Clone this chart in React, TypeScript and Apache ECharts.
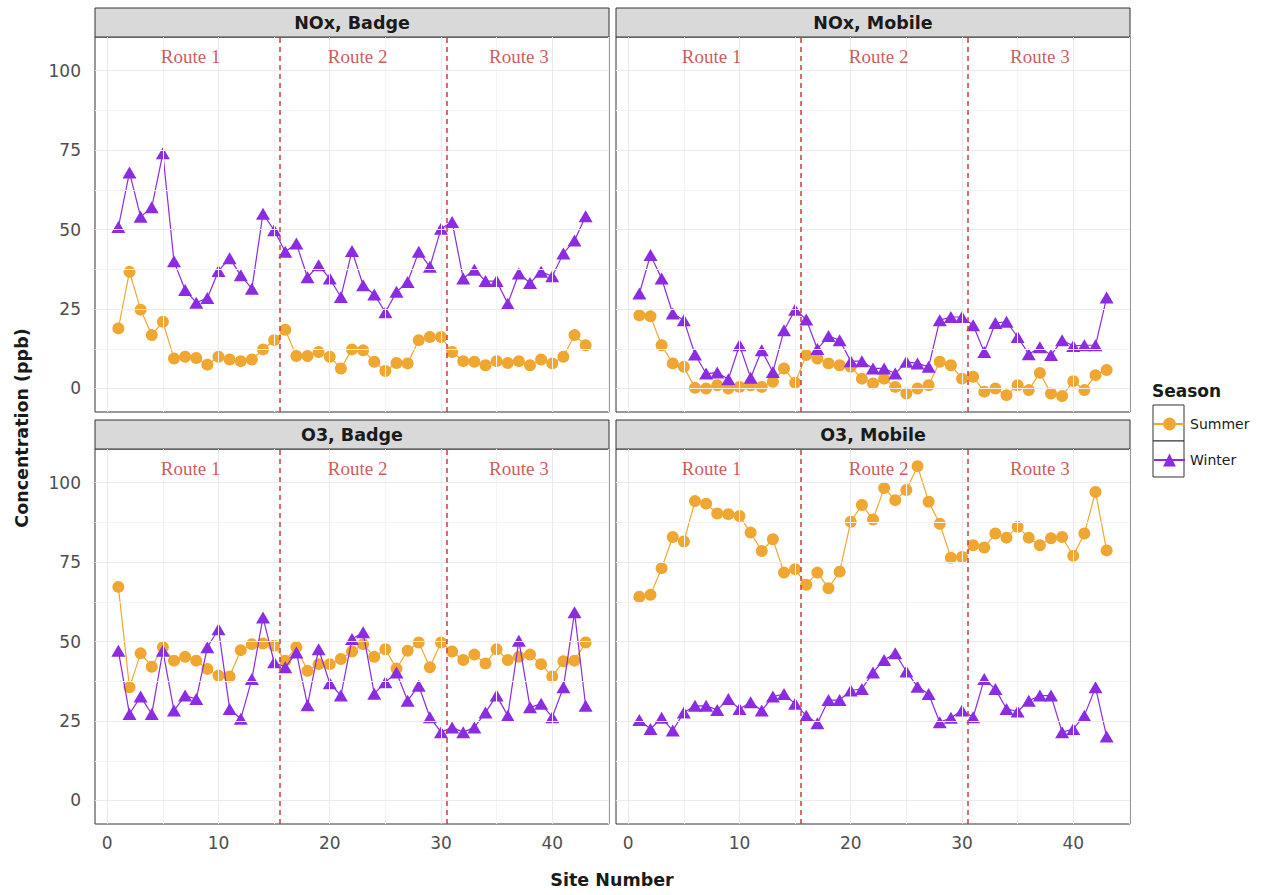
import React, { useEffect, useRef } from "react";
import * as echarts from "echarts";

const SITES = [1, 2, 3, 4, 5, 6, 7, 8, 9, 10, 11, 12, 13, 14, 15, 16, 17, 18, 19, 20, 21, 22, 23, 24, 25, 26, 27, 28, 29, 30, 31, 32, 33, 34, 35, 36, 37, 38, 39, 40, 41, 42, 43];

const PANELS = ["NOx, Badge", "NOx, Mobile", "O3, Badge", "O3, Mobile"];
const SEASONS = ["Summer", "Winter"];

const NOX_BADGE_SUMMER = [18.9, 36.7, 24.8, 16.8, 21, 9.4, 10, 9.6, 7.5, 10, 9.1, 8.6, 9.1, 12.3, 15.2, 18.5, 10.2, 10.2, 11.5, 10, 6.3, 12.3, 12, 8.4, 5.5, 8, 7.9, 15.2, 16.2, 16.2, 11.5, 8.6, 8.4, 7.3, 8.6, 8, 8.6, 7.3, 9.1, 7.9, 10, 16.8, 13.6];
const NOX_BADGE_WINTER = [50.8, 68, 54, 57, 74, 40, 31, 27, 28.5, 37, 41, 35.6, 31.4, 55, 49.8, 43, 45.6, 35, 38.8, 34.6, 28.8, 43.3, 32.5, 29.6, 24, 30.4, 33.5, 43, 38.3, 50.3, 52.4, 34.6, 37.4, 33.8, 33.8, 26.7, 36.2, 33.2, 36.7, 35.3, 42.5, 46.6, 54.2];
const NOX_MOBILE_SUMMER = [23, 22.7, 13.6, 7.9, 6.8, 0.2, 0, 1, 0, 0.5, 1, 0.5, 2.1, 6.3, 1.8, 10.5, 9.4, 7.9, 7.3, 6.8, 3.1, 1.6, 3.1, 0.5, -1.6, 0, 1, 8.4, 7.3, 3.1, 3.7, -1, 0, -2.1, 1, -0.5, 4.9, -1.6, -2.4, 2.3, -0.5, 4.2, 5.8];
const NOX_MOBILE_WINTER = [29.9, 42, 34.6, 23.6, 21.5, 10.7, 4.7, 5, 2.9, 13.6, 3.4, 12, 5.2, 18.3, 24.8, 21.7, 12.4, 16.5, 15.2, 8.6, 8.6, 6.3, 6.3, 4.7, 8.4, 7.9, 6.8, 21.5, 22.5, 22.5, 19.9, 11.5, 20.6, 21, 16.2, 10.8, 13, 10.5, 15.2, 13.4, 13.6, 13.6, 28.6];
const O3_BADGE_SUMMER = [67.2, 35.6, 46.3, 42.1, 48.2, 44, 45.2, 44, 41.4, 39.3, 39, 47.3, 49.2, 49.4, 48.7, 44, 48.2, 40.8, 42.9, 42.9, 44.5, 46.9, 49.2, 45.2, 47.6, 41.5, 47.1, 49.7, 41.9, 49.7, 46.9, 44.2, 45.9, 43.1, 47.6, 44.2, 45.2, 45.9, 42.9, 39, 43.8, 44, 49.7];
const O3_BADGE_WINTER = [47.1, 27.2, 32.7, 27.2, 47.1, 28.3, 33, 31.9, 48.2, 53.9, 28.8, 25.7, 38.2, 57.6, 43.5, 41.9, 46.6, 30, 47.6, 36.9, 33, 50.8, 52.9, 33.6, 37.2, 40.3, 31.4, 36.1, 26.2, 21.5, 23, 21.5, 23, 27.7, 33, 26.7, 50.3, 29.3, 30.4, 26.2, 35.6, 59.2, 29.8];
const O3_MOBILE_SUMMER = [64.1, 64.7, 73.1, 82.9, 81.5, 94.2, 93.4, 90.3, 90.1, 89.5, 84.3, 78.5, 82.2, 71.7, 72.8, 67.9, 71.7, 66.8, 72, 87.7, 93, 88.4, 98.3, 94.5, 97.7, 105.2, 94, 87.1, 76.4, 76.6, 80.3, 79.6, 84, 82.7, 86.1, 82.7, 80.3, 82.5, 82.9, 77, 84, 97.1, 78.7];
const O3_MOBILE_WINTER = [25.3, 22.5, 26, 22, 27.7, 29.8, 29.8, 28.5, 31.9, 28.8, 30.9, 28.3, 32.7, 33.5, 30.4, 26.7, 24.3, 31.6, 31.6, 34.6, 35.1, 40.3, 44.2, 46.3, 40.6, 35.8, 33.5, 24.6, 26, 28.3, 26.2, 38.2, 35.1, 28.8, 28, 31.4, 33, 33, 21.5, 22.5, 26.7, 35.6, 20.1];

const SUMMER = [NOX_BADGE_SUMMER, NOX_MOBILE_SUMMER, O3_BADGE_SUMMER, O3_MOBILE_SUMMER];
const WINTER = [NOX_BADGE_WINTER, NOX_MOBILE_WINTER, O3_BADGE_WINTER, O3_MOBILE_WINTER];

const ROUTE_LABELS = ["Route 1", "Route 2", "Route 3"];
const ROUTE_LABEL_X = [7.5, 22.5, 37];
const ROUTE_LABEL_Y = 104.5;
const ROUTE_BREAKS = [15.5, 30.5];

const Y_TICKS = [0, 25, 50, 75, 100];
const Y_MINOR = [12.5, 37.5, 62.5, 87.5];
const X_TICKS = [0, 10, 20, 30, 40];
const X_MINOR = [5, 15, 25, 35, 45];

const ORANGE = "#F0A732";
const PURPLE = "#8B2BE2";
const RED = "#C0302F";
const DASH_RED = "#C8403F";
const DARK = "#333333";
const FONT = "DejaVu Sans";

const GRID_POS = [
  { left: 95, top: 37 },
  { left: 616, top: 37 },
  { left: 95, top: 449 },
  { left: 616, top: 449 },
];
const GW = 514;
const GH = 375;

export default function App() {
  const ref = useRef<HTMLDivElement>(null);

  useEffect(() => {
    if (!ref.current) return;
    const chart = echarts.init(ref.current, null, { renderer: "svg" });

    const grids = GRID_POS.map((p) => ({
      left: p.left,
      top: p.top,
      width: GW,
      height: GH,
      show: true,
      backgroundColor: "#ffffff",
      borderColor: DARK,
      borderWidth: 1,
      containLabel: false,
      outerBoundsMode: "none",
    }));

    const xAxes = GRID_POS.map((_, i) => ({
      type: "value",
      gridIndex: i,
      min: -1.1,
      max: 45.1,
      axisLine: { show: false },
      splitLine: { show: false },
      axisTick: {
        show: i >= 2,
        customValues: X_TICKS,
        length: 6,
        lineStyle: { color: DARK, width: 1 },
      },
      axisLabel: {
        show: i >= 2,
        customValues: X_TICKS,
        fontFamily: FONT,
        fontSize: 17,
        color: "#4d4d4d",
        margin: 10,
      },
    }));

    const yAxes = GRID_POS.map((_, i) => ({
      type: "value",
      gridIndex: i,
      min: -7.4,
      max: 110.6,
      axisLine: { show: false },
      splitLine: { show: false },
      axisTick: {
        show: i % 2 === 0,
        customValues: Y_TICKS,
        length: 6,
        lineStyle: { color: DARK, width: 1 },
      },
      axisLabel: {
        show: i % 2 === 0,
        customValues: Y_TICKS,
        fontFamily: FONT,
        fontSize: 17,
        color: "#4d4d4d",
        margin: 14,
      },
    }));

    const series: any[] = [];
    PANELS.forEach((_, i) => {
      const gridLines = [
        ...Y_MINOR.map((v) => ({ yAxis: v, lineStyle: { color: "#f4f4f4", width: 1, type: "solid" } })),
        ...X_MINOR.map((v) => ({ xAxis: v, lineStyle: { color: "#f4f4f4", width: 1, type: "solid" } })),
        ...Y_TICKS.map((v) => ({ yAxis: v, lineStyle: { color: "#ebebeb", width: 1, type: "solid" } })),
        ...X_TICKS.map((v) => ({ xAxis: v, lineStyle: { color: "#ebebeb", width: 1, type: "solid" } })),
      ];
      series.push({
        type: "line",
        name: "_grid" + i,
        xAxisIndex: i,
        yAxisIndex: i,
        data: [],
        silent: true,
        z: 1,
        markLine: {
          silent: true,
          symbol: ["none", "none"],
          label: { show: false },
          emphasis: { disabled: true },
          data: gridLines,
        },
      });
      series.push({
        type: "line",
        name: SEASONS[0],
        xAxisIndex: i,
        yAxisIndex: i,
        data: SITES.map((s, k) => [s, SUMMER[i][k]]),
        symbol: "circle",
        symbolSize: 12,
        itemStyle: { color: ORANGE },
        lineStyle: { color: ORANGE, width: 1.2 },
        emphasis: { disabled: true },
        silent: true,
        z: 3,
      });
      series.push({
        type: "line",
        name: SEASONS[1],
        xAxisIndex: i,
        yAxisIndex: i,
        data: SITES.map((s, k) => [s, WINTER[i][k]]),
        symbol: "triangle",
        symbolSize: [14, 12],
        itemStyle: { color: PURPLE },
        lineStyle: { color: PURPLE, width: 1.2 },
        emphasis: { disabled: true },
        silent: true,
        z: 4,
      });
      series.push({
        type: "scatter",
        name: "_route" + i,
        xAxisIndex: i,
        yAxisIndex: i,
        data: ROUTE_LABELS.map((t, k) => ({ name: t, value: [ROUTE_LABEL_X[k], ROUTE_LABEL_Y] })),
        symbolSize: 1,
        itemStyle: { color: "rgba(0,0,0,0)" },
        silent: true,
        z: 5,
        label: {
          show: true,
          position: "inside",
          formatter: "{b}",
          color: RED,
          fontFamily: "Liberation Serif",
          fontSize: 19,
        },
        emphasis: { disabled: true },
        markLine: {
          silent: true,
          symbol: ["none", "none"],
          label: { show: false },
          emphasis: { disabled: true },
          lineStyle: { color: DASH_RED, width: 1.5, type: [5, 4] },
          data: ROUTE_BREAKS.map((v) => ({ xAxis: v })),
        },
      });
    });

    const graphic: any[] = [];
    GRID_POS.forEach((p, i) => {
      graphic.push({
        type: "rect",
        shape: { x: p.left, y: p.top - 29, width: GW, height: 29 },
        style: { fill: "#d9d9d9", stroke: DARK, lineWidth: 1 },
        silent: true,
      });
      graphic.push({
        type: "text",
        x: p.left + GW / 2,
        y: p.top - 14.5,
        style: {
          text: PANELS[i],
          font: `bold 17.5px "${FONT}"`,
          fill: "#1a1a1a",
          align: "center",
          verticalAlign: "middle",
        },
        silent: true,
      });
    });
    graphic.push({
      type: "text",
      x: 22,
      y: 428,
      rotation: Math.PI / 2,
      style: {
        text: "Concentration (ppb)",
        font: `bold 17.5px "${FONT}"`,
        fill: "#1a1a1a",
        align: "center",
        verticalAlign: "middle",
      },
      silent: true,
    });
    graphic.push({
      type: "text",
      x: 612,
      y: 880,
      style: {
        text: "Site Number",
        font: `bold 17.5px "${FONT}"`,
        fill: "#1a1a1a",
        align: "center",
        verticalAlign: "middle",
      },
      silent: true,
    });
    graphic.push({
      type: "text",
      x: 1152,
      y: 391,
      style: {
        text: "Season",
        font: `bold 17px "${FONT}"`,
        fill: "#1a1a1a",
        align: "left",
        verticalAlign: "middle",
      },
      silent: true,
    });
    graphic.push({
      type: "rect",
      shape: { x: 1153, y: 405, width: 31, height: 36 },
      style: { fill: "#ffffff", stroke: DARK, lineWidth: 1 },
      silent: true,
    });
    graphic.push({
      type: "rect",
      shape: { x: 1153, y: 441, width: 31, height: 36 },
      style: { fill: "#ffffff", stroke: DARK, lineWidth: 1 },
      silent: true,
    });

    chart.setOption({
      animation: false,
      backgroundColor: "#ffffff",
      grid: grids,
      xAxis: xAxes,
      yAxis: yAxes,
      legend: {
        data: SEASONS,
        orient: "vertical",
        left: 1153,
        top: 417,
        padding: 0,
        itemWidth: 31,
        itemHeight: 16,
        itemGap: 22,
        selectedMode: false,
        textStyle: { fontFamily: FONT, fontSize: 14, color: "#1a1a1a", padding: [0, 0, 0, 0] },
      },
      graphic,
      series,
    });

    return () => chart.dispose();
  }, []);

  return (
    <div
      ref={ref}
      style={{ position: "fixed", left: 0, top: 0, width: 1270, height: 895, background: "#fff" }}
    />
  );
}
